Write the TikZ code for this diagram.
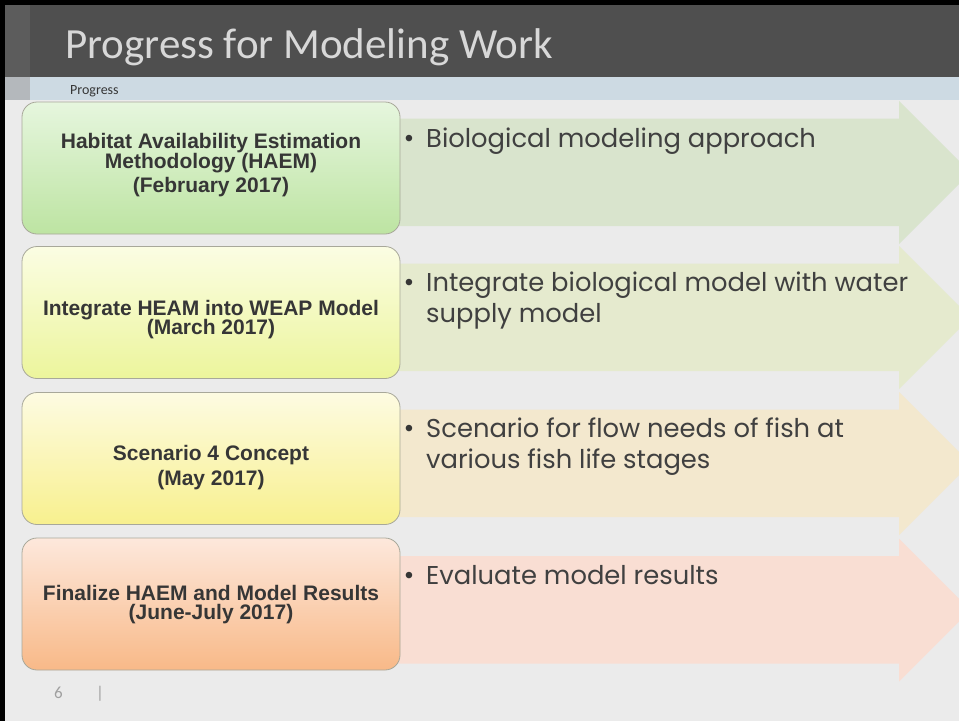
\documentclass[tikz,border=0pt]{standalone}
\usepackage{fontspec}
\setmainfont{Liberation Sans}
\newfontfamily\titlefont{Carlito}
\newfontfamily\bulletfont{Poppins}
\newfontfamily\boxfont{Liberation Sans}
\definecolor{bgc}{HTML}{EBEBEB}
\definecolor{titlebar}{HTML}{4F4F4F}
\definecolor{titlestrip}{HTML}{5C5C5C}
\definecolor{subband}{HTML}{CDDAE3}
\definecolor{substrip}{HTML}{B4B8BC}
\definecolor{titletext}{HTML}{D8D8D8}
\definecolor{darktext}{HTML}{363636}
\definecolor{bultext}{HTML}{404040}
\definecolor{boxline}{HTML}{A8A89A}
\definecolor{aone}{HTML}{D9E4CD}
\definecolor{atwo}{HTML}{E5EACE}
\definecolor{athree}{HTML}{F3E8CE}
\definecolor{afour}{HTML}{F9DED3}
\definecolor{gonetop}{HTML}{E6F6DE}
\definecolor{gonebot}{HTML}{BDE4A2}
\definecolor{gtwotop}{HTML}{FBFDE3}
\definecolor{gtwobot}{HTML}{ECF59C}
\definecolor{gthreetop}{HTML}{FDFBE2}
\definecolor{gthreebot}{HTML}{F8F08E}
\definecolor{gfourtop}{HTML}{FDE8DC}
\definecolor{gfourbot}{HTML}{F8B988}
\definecolor{pagenum}{HTML}{A0A0A0}
\tikzset{
  stagebox/.style={draw=boxline, line width=0.8pt, rounded corners=15pt,
    minimum width=378pt, minimum height=132pt, inner sep=0pt},
  boxtext/.style={anchor=base, inner sep=0pt, text=darktext,
    font=\boxfont\bfseries\fontsize{21}{21}\selectfont},
  bullettext/.style={anchor=base west, inner sep=0pt, text=bultext,
    font=\bulletfont\fontsize{25.8}{31.5}\selectfont},
  bulletdot/.style={anchor=base, inner sep=0pt, text=darktext,
    font=\boxfont\fontsize{24}{24}\selectfont},
}
\newcommand{\progarrow}[2]{%
  \fill[#1] (395,#2+17.5) -- (899,#2+17.5) -- (899,#2) -- (970.5,#2+71.5)
    -- (899,#2+143) -- (899,#2+125) -- (395,#2+125) -- cycle;}
\begin{document}
\begin{tikzpicture}[x=1pt,y=-1pt]
\useasboundingbox (0,0) rectangle (959,721);
\begin{scope}
\clip (0,0) rectangle (959,721);
% background
\fill[bgc] (0,0) rectangle (959,721);
% title bar
\fill[titlebar] (0,0) rectangle (959,77);
\fill[titlestrip] (5,5) rectangle (30,77);
\fill[subband] (0,77) rectangle (959,100);
\fill[substrip] (5,77) rectangle (30,100);
% black frame
\fill[black] (0,0) rectangle (959,5);
\fill[black] (0,0) rectangle (5,721);
\node[anchor=base west, inner sep=0pt, text=titletext,
  font=\titlefont\fontsize{43}{43}\selectfont] (title) at (65,58) {Progress for Modeling Work};
\node[anchor=base west, inner sep=0pt, text=darktext,
  font=\titlefont\fontsize{14}{14}\selectfont] (sub) at (70,94.5) {Progress};
% arrows
\progarrow{aone}{101}
\progarrow{atwo}{246}
\progarrow{athree}{392}
\progarrow{afour}{538.5}
% boxes
\node[stagebox, top color=gonetop, bottom color=gonebot] (b1) at (211,168) {};
\node[stagebox, top color=gtwotop, bottom color=gtwobot] (b2) at (211,312.5) {};
\node[stagebox, top color=gthreetop, bottom color=gthreebot] (b3) at (211,458.5) {};
\node[stagebox, top color=gfourtop, bottom color=gfourbot] (b4) at (211,604) {};
% box texts
\node[boxtext] (b1l1) at (211,148.5) {Habitat Availability Estimation};
\node[boxtext] (b1l2) at (211,168.5) {Methodology (HAEM)};
\node[boxtext] (b1l3) at (211,192) {(February 2017)};
\node[boxtext] (b2l1) at (211,315.5) {Integrate HEAM into WEAP Model};
\node[boxtext] (b2l2) at (211,334.5) {(March 2017)};
\node[boxtext] (b3l1) at (211,460) {Scenario 4 Concept};
\node[boxtext] (b3l2) at (211,485) {(May 2017)};
\node[boxtext] (b4l1) at (211,600) {Finalize HAEM and Model Results};
\node[boxtext] (b4l2) at (211,619.5) {(June-July 2017)};
% bullets
\node[bulletdot] (d1) at (409,146) {•};
\node[bullettext] (t1) at (426,147) {Biological modeling approach};
\node[bulletdot] (d2) at (409,290) {•};
\node[bullettext] (t2a) at (426,291) {Integrate biological model with water};
\node[bullettext] (t2b) at (426,322.5) {supply model};
\node[bulletdot] (d3) at (409,436) {•};
\node[bullettext] (t3a) at (426,437) {Scenario for flow needs of fish at};
\node[bullettext] (t3b) at (426,468) {various fish life stages};
\node[bulletdot] (d4) at (409,583) {•};
\node[bullettext] (t4) at (426,584) {Evaluate model results};
% page number
\node[anchor=base, inner sep=0pt, text=pagenum,
  font=\titlefont\fontsize{17}{17}\selectfont] (pn) at (58.5,698) {6};
\node[anchor=base, inner sep=0pt, text=pagenum,
  font=\titlefont\fontsize{17}{17}\selectfont] (bar) at (100,698) {|};
\end{scope}
\end{tikzpicture}
\end{document}
